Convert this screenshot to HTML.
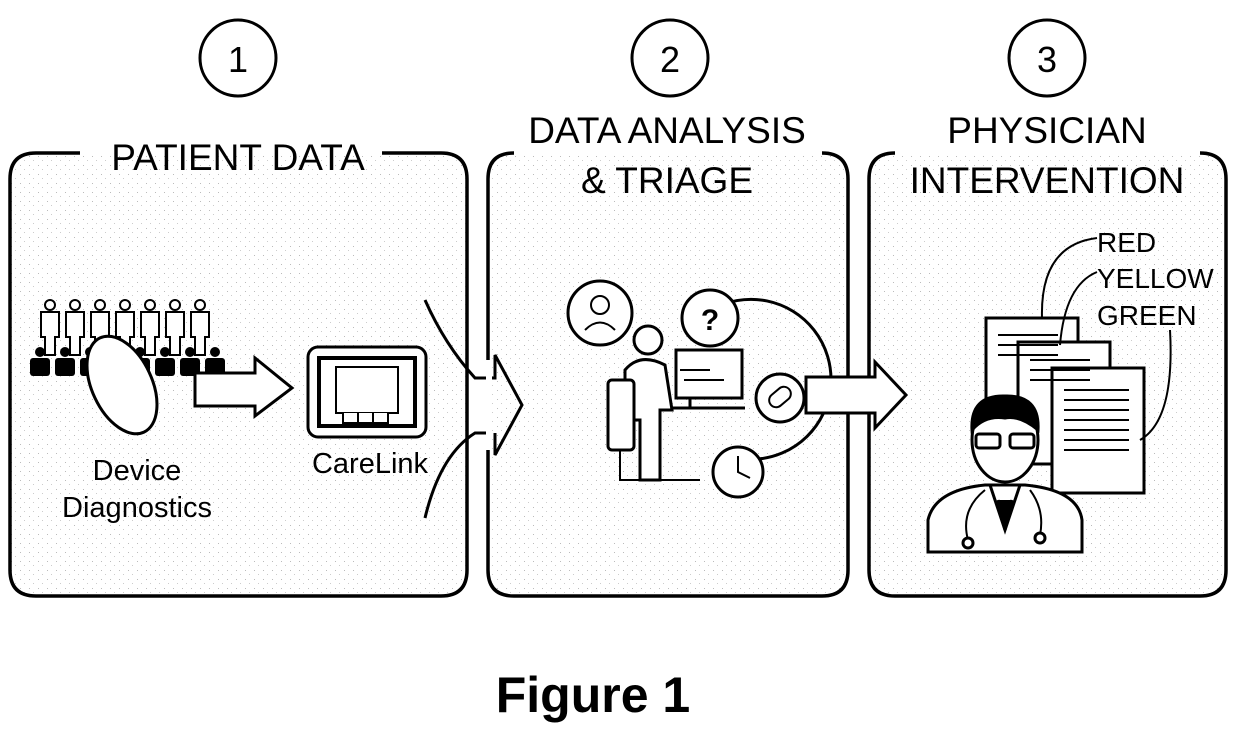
<!DOCTYPE html>
<html><head><style>
html,body{margin:0;padding:0;background:#fff;width:1240px;height:734px;overflow:hidden}
svg{display:block}
text{font-family:"Liberation Sans",sans-serif;fill:#000}
</style></head><body>
<svg width="1240" height="734" viewBox="0 0 1240 734" xmlns="http://www.w3.org/2000/svg">
<defs>
<pattern id="dots" width="9" height="9" patternUnits="userSpaceOnUse">
<rect x="2" y="3" width="1" height="1" fill="#bbb"/><rect x="6" y="7" width="1" height="1" fill="#ccc"/>
</pattern>
</defs>
<g fill="none" stroke="#000" stroke-width="3">
<!-- circles -->
<circle cx="238" cy="58" r="38"/>
<circle cx="670" cy="58" r="38"/>
<circle cx="1047" cy="58" r="38"/>
</g>
<text x="238" y="72" font-size="36" text-anchor="middle">1</text>
<text x="670" y="72" font-size="36" text-anchor="middle">2</text>
<text x="1047" y="72" font-size="36" text-anchor="middle">3</text>

<!-- panels -->
<rect x="10" y="153" width="457" height="443" rx="26" fill="url(#dots)"/>
<rect x="488" y="153" width="360" height="443" rx="26" fill="url(#dots)"/>
<rect x="869" y="153" width="357" height="443" rx="26" fill="url(#dots)"/>
<g fill="none" stroke="#000" stroke-width="3.5">
<path d="M80 153 H36 Q10 153 10 179 V570 Q10 596 36 596 H441 Q467 596 467 570 V179 Q467 153 441 153 H382"/>
<path d="M514 153 Q488 153 488 179 V570 Q488 596 514 596 H822 Q848 596 848 570 V179 Q848 153 822 153"/>
<path d="M895 153 Q869 153 869 179 V570 Q869 596 895 596 H1200 Q1226 596 1226 570 V179 Q1226 153 1200 153"/>
</g>
<text x="238" y="170" font-size="37" text-anchor="middle">PATIENT DATA</text>
<text x="667" y="143" font-size="37" text-anchor="middle">DATA ANALYSIS</text>
<text x="667" y="193" font-size="37" text-anchor="middle">&amp; TRIAGE</text>
<text x="1047" y="143" font-size="37" text-anchor="middle">PHYSICIAN</text>
<text x="1047" y="193" font-size="37" text-anchor="middle">INTERVENTION</text>

<!-- people -->
<g stroke="#000" stroke-width="2" fill="#fff">
<g id="p"><circle cx="50" cy="305" r="5"/><path d="M41 312 h18 v25 h-4 v18 h-10 v-18 h-4z"/></g>
<use href="#p" x="25"/><use href="#p" x="50"/><use href="#p" x="75"/><use href="#p" x="100"/><use href="#p" x="125"/><use href="#p" x="150"/>
</g>
<g fill="#000">
<g id="q"><circle cx="40" cy="352" r="5"/><rect x="30" y="358" width="20" height="18" rx="3"/></g>
<use href="#q" x="25"/><use href="#q" x="50"/><use href="#q" x="75"/><use href="#q" x="100"/><use href="#q" x="125"/><use href="#q" x="150"/><use href="#q" x="175"/>
</g>
<g stroke="#000" stroke-width="3" fill="#fff">
<ellipse cx="122" cy="385" rx="30" ry="52" transform="rotate(-25 122 385)"/>
<path d="M195 373 H255 V358 L292 388 L255 416 V406 H195Z"/>
<rect x="308" y="347" width="118" height="90" rx="10"/>
<rect x="319" y="358" width="96" height="68" stroke-width="4"/>
<rect x="336" y="367" width="62" height="46" stroke-width="2"/>
<path d="M343 413 v10 h45 v-10 M358 413 v10 M373 413 v10" stroke-width="2"/>
</g>
<text x="137" y="480" font-size="29" text-anchor="middle">Device</text>
<text x="137" y="517" font-size="29" text-anchor="middle">Diagnostics</text>
<text x="370" y="473" font-size="29" text-anchor="middle">CareLink</text>

<!-- funnel arrow 1->2 -->
<g fill="none" stroke="#000" stroke-width="3">
<path d="M425 300 Q445 345 475 378 L490 378"/>
<path d="M425 518 Q440 455 475 433 L490 433"/>
<path d="M490 378 L495 378 V355 L522 405 L495 455 V433"/>
</g>
<rect x="486" y="360" width="6" height="90" fill="#fff"/>

<!-- panel 2 icons -->
<g fill="none" stroke="#000" stroke-width="3">
<path d="M688 330 A80 80 0 1 1 725 455"/>
<circle cx="600" cy="313" r="32" fill="#fff"/>
<circle cx="710" cy="318" r="28" fill="#fff"/>
<circle cx="780" cy="398" r="24" fill="#fff"/>
<circle cx="738" cy="472" r="25" fill="#fff"/>
<path d="M738 456 V472 L750 478" stroke-width="2"/>
<rect x="676" y="350" width="66" height="48" fill="#fff"/>
<path d="M680 370 h30 M684 380 h40" stroke-width="2"/>
<path d="M660 408 H745 M690 398 v10"/>
<circle cx="648" cy="340" r="14" fill="#fff"/>
<path d="M625 370 Q640 352 665 365 L672 410 H660 V480 H640 V420 H625Z" fill="#fff"/>
<rect x="608" y="380" width="26" height="70" rx="4" fill="#fff"/>
<path d="M620 450 V480 H700" stroke-width="2"/>
<circle cx="600" cy="305" r="9" stroke-width="2"/>
<path d="M585 330 q15 -15 30 0" stroke-width="2"/>
<rect x="768" y="390" width="24" height="14" rx="7" transform="rotate(-40 780 397)" stroke-width="2"/>
</g>
<text x="710" y="330" font-size="30" font-weight="bold" text-anchor="middle">?</text>

<!-- arrow 2->3 -->
<path d="M806 377 H875 V362 L906 395 L875 428 V413 H806Z" fill="#fff" stroke="#000" stroke-width="3"/>

<!-- panel 3 -->
<g stroke="#000" stroke-width="3" fill="#fff">
<rect x="986" y="318" width="92" height="120"/>
<rect x="1018" y="342" width="92" height="122"/>
<rect x="1052" y="368" width="92" height="125"/>
</g>
<g stroke="#000" stroke-width="2">
<path d="M998 335h60M998 345h60M998 355h60M1030 360h60M1030 370h60M1030 380h60M1064 390h65M1064 400h65M1064 410h65M1064 420h65M1064 430h65M1064 440h65M1064 450h65"/>
</g>
<g fill="none" stroke="#000" stroke-width="2">
<path d="M1097 238 Q1040 245 1042 318"/>
<path d="M1097 272 Q1065 285 1060 345"/>
<path d="M1170 330 Q1175 420 1140 440"/>
</g>
<text x="1097" y="252" font-size="28">RED</text>
<text x="1097" y="288" font-size="28">YELLOW</text>
<text x="1097" y="325" font-size="28">GREEN</text>
<g stroke="#000" stroke-width="3" fill="#fff">
<path d="M928 552 V520 Q935 490 985 485 H1025 Q1078 490 1082 520 V552Z"/>
<ellipse cx="1005" cy="440" rx="33" ry="42"/>
<path d="M972 430 Q970 395 1005 396 Q1040 395 1038 430 Q1020 415 1005 418 Q985 415 972 430Z" fill="#000"/>
<rect x="976" y="434" width="24" height="14" rx="3"/><rect x="1010" y="434" width="24" height="14" rx="3"/>
<path d="M990 485 L1005 530 L1020 485" fill="none"/>
<path d="M998 500 L1005 530 L1012 500" fill="#000"/>
<path d="M985 490 Q960 510 968 540" fill="none" stroke-width="2"/>
<circle cx="968" cy="543" r="5"/>
<path d="M1030 490 Q1045 510 1040 535" fill="none" stroke-width="2"/>
<circle cx="1040" cy="538" r="5"/>
</g>

<text x="593" y="712" font-size="50" font-weight="bold" text-anchor="middle">Figure 1</text>
</svg>
</body></html>
